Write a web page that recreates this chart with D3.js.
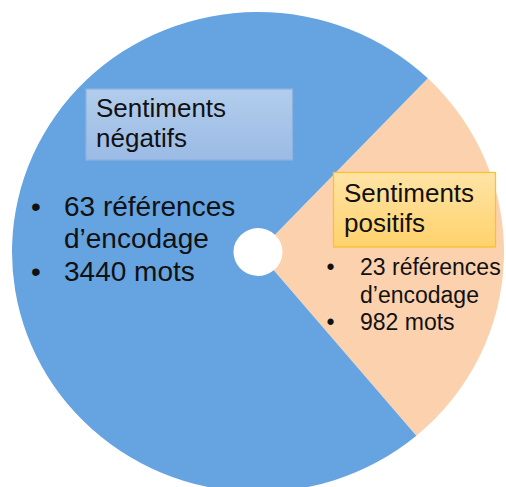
<!DOCTYPE html>
<html>
<head>
<meta charset="utf-8">
<script src="https://cdn.jsdelivr.net/npm/d3@7"></script>
<style>
  html, body { margin: 0; padding: 0; background: #fff; }
  svg { display: block; font-family: "Liberation Sans", Arial, sans-serif; }
</style>
</head>
<body>
<div id="chart"></div>
<script>
// data
const categories = ['Sentiments positifs', 'Sentiments négatifs'];
const titleLines = [['Sentiments', 'positifs'], ['Sentiments', 'négatifs']];
const references = [23, 63];
const words = [982, 3440];

const width = 506;
const height = 487;
const cx = 258;
const cy = 252;
const rx = 246;
const ry = 240;
const hole = 24.5;

const color = d3.scaleOrdinal(categories, ['#fcd1ad', '#65a3e1']);

const rows = categories.map((c, i) => ({
  name: c, title: titleLines[i], refs: references[i], words: words[i],
}));

const svg = d3.select('#chart').append('svg')
  .attr('width', width)
  .attr('height', height);

const defs = svg.append('defs');
function grad(id, top, bottom) {
  const g = defs.append('linearGradient').attr('id', id)
    .attr('x1', 0).attr('y1', 0).attr('x2', 0).attr('y2', 1);
  g.append('stop').attr('offset', '0%').attr('stop-color', top);
  g.append('stop').attr('offset', '100%').attr('stop-color', bottom);
}
grad('gNeg', '#b2cdec', '#9bbbe5');
grad('gPos', '#ffe4a6', '#ffd26c');

// positive slice is centred a bit below 3 o'clock
const share = references[0] / d3.sum(references);
const mid = 91.8 * Math.PI / 180;
const start = mid - share * Math.PI;

const pie = d3.pie().sort(null).value(d => d.refs)
  .startAngle(start).endAngle(start + 2 * Math.PI);
const arc = d3.arc().innerRadius(hole).outerRadius(rx);

svg.append('g')
  .attr('transform', `translate(${cx},${cy}) scale(1,${ry / rx})`)
  .selectAll('path')
  .data(pie(rows))
  .join('path')
  .attr('d', arc)
  .attr('fill', d => color(d.data.name));

// label boxes
const boxes = [
  { x: 333.5, y: 172.5, w: 162, h: 74.5, fill: 'url(#gPos)', stroke: '#fcc12f',
    tx: 344, ty: 201.7, bx: 330.5, lx: 360, ly: 275, lh: 27.5, size: 23 },
  { x: 86, y: 89, w: 206.5, h: 71, fill: 'url(#gNeg)', stroke: '#8fb2df',
    tx: 96, ty: 116.7, bx: 36, lx: 64, ly: 216, lh: 32.4, size: 28 },
];

const labels = svg.append('g').selectAll('g')
  .data(rows)
  .join('g');

labels.append('rect')
  .attr('x', (d, i) => boxes[i].x)
  .attr('y', (d, i) => boxes[i].y)
  .attr('width', (d, i) => boxes[i].w)
  .attr('height', (d, i) => boxes[i].h)
  .attr('fill', (d, i) => boxes[i].fill)
  .attr('stroke', (d, i) => boxes[i].stroke)
  .attr('stroke-width', 1.3);

labels.each(function (d, i) {
  const b = boxes[i];
  const g = d3.select(this);
  g.selectAll('text.title')
    .data(d.title)
    .join('text')
    .attr('class', 'title')
    .attr('x', b.tx)
    .attr('y', (t, j) => b.ty + j * 30)
    .attr('font-size', 26)
    .attr('fill', '#111')
    .text(t => t);

  const lines = [
    { bullet: true, text: `${d.refs} références` },
    { bullet: false, text: 'd’encodage' },
    { bullet: true, text: `${d.words} mots` },
  ];
  lines.forEach((l, j) => {
    const y = b.ly + j * b.lh;
    if (l.bullet) {
      g.append('text')
        .attr('x', b.bx)
        .attr('y', y)
        .attr('text-anchor', 'middle')
        .attr('font-size', b.size)
        .attr('fill', '#111')
        .text('•');
    }
    g.append('text')
      .attr('x', b.lx)
      .attr('y', y)
      .attr('font-size', b.size)
      .attr('fill', '#111')
      .text(l.text);
  });
});
</script>
</body>
</html>
